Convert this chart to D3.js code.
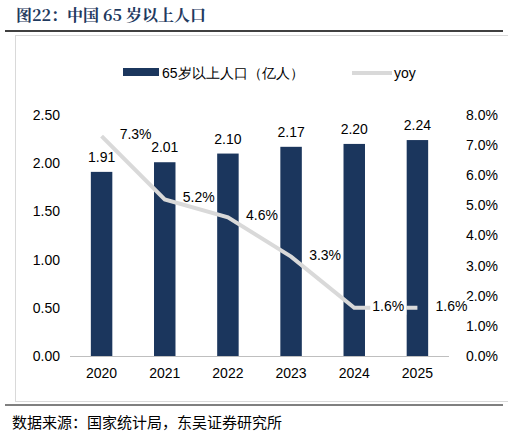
<!DOCTYPE html>
<html><head><meta charset="utf-8">
<script src="https://cdn.jsdelivr.net/npm/d3@7"></script>
<style>body{margin:0;background:#fff}</style>
</head><body>
<svg id="c" width="508" height="439"></svg>
<script>
const years = ["2020","2021","2022","2023","2024","2025"];
const population = [1.91, 2.01, 2.10, 2.17, 2.20, 2.24];
const yoy = [7.3, 5.2, 4.6, 3.3, 1.6, 1.6];
const leftTicks = [0, 0.5, 1.0, 1.5, 2.0, 2.5];
const rightTicks = [0, 1, 2, 3, 4, 5, 6, 7, 8];

const svg = d3.select("#c");
const font = "Arial, 'Liberation Sans', sans-serif";
const navy = "#1B365D";

svg.append("text").attr("x", 16).attr("y", 21)
  .attr("font-family", "'Noto Serif CJK SC','Noto Sans CJK SC',serif").attr("font-weight", "bold")
  .attr("font-size", 16).attr("fill", "#1F3A5F").text("图22：中国 65 岁以上人口");
svg.append("line").attr("x1", 5).attr("x2", 503).attr("y1", 31).attr("y2", 31).attr("stroke", "#000").attr("stroke-width", 1.5);
svg.append("rect").attr("x", 15.5).attr("y", 35.5).attr("width", 500).attr("height", 366)
  .attr("fill", "none").attr("stroke", "#d9d9d9");
svg.append("line").attr("x1", 5).attr("x2", 503).attr("y1", 405).attr("y2", 405).attr("stroke", "#000").attr("stroke-width", 1);
svg.append("text").attr("x", 12).attr("y", 428)
  .attr("font-family", "'Noto Sans CJK SC',sans-serif").attr("font-size", 15).attr("fill", "#000")
  .text("数据来源：国家统计局，东吴证券研究所");

const x = d3.scaleBand().domain(years).range([70, 449]).paddingInner(0.66).paddingOuter(0.33);
const yL = d3.scaleLinear().domain([0, 2.5]).range([356, 115]);
const yR = d3.scaleLinear().domain([0, 8]).range([356, 115]);

// legend
svg.append("rect").attr("x", 123).attr("y", 68).attr("width", 36).attr("height", 8).attr("fill", navy);
svg.append("text").attr("x", 162).attr("y", 78).attr("font-family", font).attr("font-size", 14).text("65岁以上人口（亿人）");
svg.append("line").attr("x1", 352).attr("x2", 392).attr("y1", 73).attr("y2", 73).attr("stroke", "#d9d9d9").attr("stroke-width", 4);
svg.append("text").attr("x", 394).attr("y", 78).attr("font-family", font).attr("font-size", 14).text("yoy");

// axes
const gl = svg.append("g").attr("transform", "translate(64,0)")
  .call(d3.axisLeft(yL).tickValues(leftTicks).tickFormat(d3.format(".2f")).tickSize(0).tickPadding(4));
const gr = svg.append("g").attr("transform", "translate(462,0)")
  .call(d3.axisRight(yR).tickValues(rightTicks).tickFormat(d => d.toFixed(1) + "%").tickSize(0).tickPadding(4));
const gb = svg.append("g").attr("transform", "translate(0,356)")
  .call(d3.axisBottom(x).tickSize(0).tickPadding(12));
[gl, gr, gb].forEach(g => {
  g.select(".domain").remove();
  g.selectAll("text").attr("font-family", font).attr("font-size", 14).attr("fill", "#000");
});
svg.append("line").attr("x1", 70).attr("x2", 449).attr("y1", 356.5).attr("y2", 356.5).attr("stroke", "#bfbfbf");

// bars
svg.selectAll(".bar").data(years).enter().append("rect")
  .attr("x", d => x(d)).attr("width", x.bandwidth())
  .attr("y", (d, i) => yL(population[i])).attr("height", (d, i) => 356 - yL(population[i]))
  .attr("fill", navy);
svg.selectAll(".bl").data(years).enter().append("text")
  .attr("x", d => x(d) + x.bandwidth() / 2).attr("y", (d, i) => yL(population[i]) - 10)
  .attr("text-anchor", "middle").attr("font-family", font).attr("font-size", 14)
  .text((d, i) => population[i].toFixed(2));

// line
const cx = d => x(d) + x.bandwidth() / 2;
svg.append("path").datum(years)
  .attr("d", d3.line().x(cx).y((d, i) => yR(yoy[i])))
  .attr("fill", "none").attr("stroke", "#d9d9d9").attr("stroke-width", 4);
const ll = svg.selectAll(".ll").data(years).enter().append("g")
  .attr("transform", (d, i) => `translate(${cx(d) + 34},${yR(yoy[i]) + 3})`);
ll.append("rect").attr("x", -18).attr("y", -11).attr("width", 36).attr("height", 15).attr("fill", "#fff")
  .attr("opacity", (d, i) => i >= 4 ? 1 : 0);
ll.append("text").attr("text-anchor", "middle").attr("font-family", font).attr("font-size", 14)
  .text((d, i) => yoy[i].toFixed(1) + "%");
</script>
</body></html>
